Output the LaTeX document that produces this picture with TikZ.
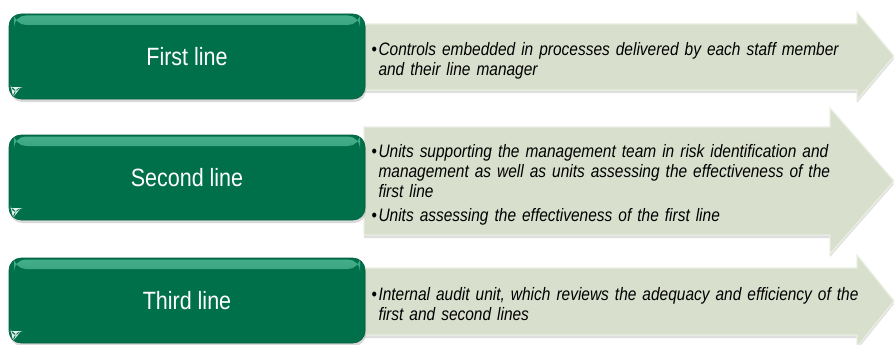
\documentclass[tikz,border=0pt]{standalone}
\usepackage{fontspec}
\setmainfont{Liberation Sans}[FakeStretch=0.86]
\usepackage{tikz}
\usetikzlibrary{positioning,shadows}
\definecolor{lines-green}{HTML}{00704A}
\definecolor{lines-glow}{HTML}{5CC3A0}
\definecolor{lines-sage}{HTML}{D8DFCC}
\definecolor{lines-rim}{HTML}{EAEFE3}
\newcommand{\bitem}[1]{\par\hangindent=7pt\hangafter=1\noindent\makebox[7pt][l]{\upshape\textbullet}#1\par}

\begin{document}
\begin{tikzpicture}[
  x=1pt, y=-1pt,
  linebox/.style={
    rectangle, rounded corners=12pt,
    fill=lines-green, draw=lines-green!85!black, line width=0.6pt,
    minimum width=356pt, minimum height=85pt,
    text=white, font=\fontsize{25}{28}\selectfont,
    drop shadow={shadow xshift=1pt, shadow yshift=-3pt, opacity=0.3},
    path picture={
      \fill[top color=lines-glow!75!lines-green, bottom color=lines-green]
        ([shift={(5pt,-1.5pt)}]path picture bounding box.north west) rectangle
        ([shift={(-5pt,-11pt)}]path picture bounding box.north east);
      \fill[white, opacity=0.9]
        ([shift={(2pt,12pt)}]path picture bounding box.south west) --
        ([shift={(12pt,12pt)}]path picture bounding box.south west) --
        ([shift={(4pt,2pt)}]path picture bounding box.south west) -- cycle;
    }
  },
  band/.style={
    fill=lines-sage, draw=lines-rim, line width=1.2pt,
    drop shadow={shadow xshift=0pt, shadow yshift=-3pt, opacity=0.25}
  },
  desc/.style={
    anchor=west, inner sep=0pt, text width=490pt,
    font=\itshape\fontsize{18}{20}\selectfont
  }
]
\useasboundingbox (0,0) rectangle (894,345);

%% Arrows behind the boxes
\draw[band] (364,24) -- (857,24) -- (857,12) -- (894,56) -- (857,100) -- (857,90) -- (364,90) -- cycle;
\draw[band] (364,127) -- (830,127) -- (830,108) -- (894,181) -- (830,254) -- (830,235) -- (364,235) -- cycle;
\draw[band] (364,268) -- (857,268) -- (857,255) -- (894,301) -- (857,347) -- (857,335) -- (364,335) -- cycle;

%% Lines of defence
\node[linebox] (first) at (187,56.5) {First line};
\node[linebox] (second) at (187,177.5) {Second line};
\node[linebox] (third) at (187,300.5) {Third line};

%% Descriptions
\node[desc] (desc1) at ([xshift=6pt,yshift=-1pt]first.east) {\raggedright
  \bitem{Controls embedded in processes delivered by each staff member\newline and their line manager}};
\node[desc] (desc2) at ([xshift=6pt,yshift=-4pt]second.east) {\raggedright
  \bitem{Units supporting the management team in risk identification and\newline management as well as units assessing the effectiveness of the\newline first line}
  \vspace{4pt}
  \bitem{Units assessing the effectiveness of the first line}};
\node[desc] (desc3) at ([xshift=6pt,yshift=0pt]third.east) {\raggedright
  \bitem{Internal audit unit, which reviews the adequacy and efficiency of the\newline first and second lines}};

\end{tikzpicture}
\end{document}
